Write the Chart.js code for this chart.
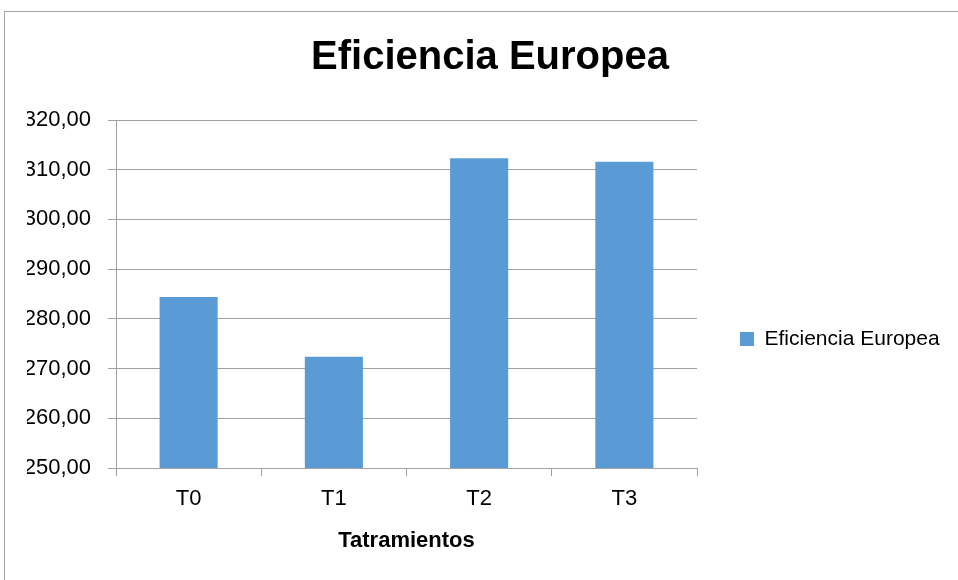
<!DOCTYPE html>
<html>
<head>
<meta charset="utf-8">
<script src="https://cdn.jsdelivr.net/npm/chart.js@4/dist/chart.umd.min.js"></script>
<style>
  html, body { margin: 0; padding: 0; background: #fff; }
  #wrap { width: 958px; height: 580px; }
</style>
</head>
<body>
<div id="wrap"><canvas id="chart" width="958" height="580"></canvas></div>
<script>
const categories = ['T0', 'T1', 'T2', 'T3'];
const seriesName = 'Eficiencia Europea';
const values = [284.4, 272.4, 312.3, 311.6];
const yTicks = [250, 260, 270, 280, 290, 300, 310, 320];

const sans = "'Liberation Sans', Arial, sans-serif";
const gridGrey = '#a0a0a0';

// marco gris del gráfico
const frame = {
    id: 'frame',
    beforeDraw(chart) {
        const ctx = chart.ctx;
        ctx.save();
        ctx.strokeStyle = '#a6a6a6';
        ctx.lineWidth = 1;
        ctx.strokeRect(4.5, 11.5, 980, 600);
        ctx.restore();
    }
};

// ancho fijo para la leyenda de la derecha
const legendWidth = {
    id: 'legendWidth',
    beforeLayout(chart) {
        const lg = chart.legend;
        if (lg && !lg._fixedWidth) {
            const fit = lg.fit;
            lg.fit = function () {
                fit.call(this);
                this.width = 256;
            };
            lg._fixedWidth = true;
        }
    }
};

function formatNum(v) {
    return v.toFixed(2).replace('.', ',');
}

new Chart(document.getElementById('chart'), {
    type: 'bar',
    data: {
        labels: categories,
        datasets: [{
            label: seriesName,
            data: values,
            backgroundColor: '#5b9bd5',
            borderWidth: 0,
            categoryPercentage: 1,
            barPercentage: 0.4
        }]
    },
    options: {
        responsive: false,
        animation: false,
        layout: { padding: { left: 27, right: 5, top: 0, bottom: 0 } },
        plugins: {
            title: {
                display: true,
                text: seriesName,
                color: '#000',
                font: { family: sans, size: 40, weight: 'bold' },
                padding: { top: 34, bottom: 38 }
            },
            legend: {
                position: 'right',
                title: { display: true, text: '', font: { size: 10 }, padding: { top: 86, bottom: 0 } },
                labels: {
                    color: '#000',
                    font: { family: sans, size: 21 },
                    boxWidth: 14,
                    boxHeight: 14,
                    padding: 43
                }
            },
            tooltip: { enabled: false }
        },
        scales: {
            x: {
                afterFit(scale) { scale.height = 112; },
                border: { color: gridGrey, width: 1 },
                grid: { drawOnChartArea: false, drawTicks: true, tickLength: 8, color: gridGrey },
                ticks: { color: '#000', padding: 10, font: { family: sans, size: 22 } },
                title: {
                    display: true,
                    text: 'Tatramientos',
                    color: '#000',
                    font: { family: sans, size: 22, weight: 'bold' },
                    padding: { top: 0, bottom: 26 }
                }
            },
            y: {
                min: yTicks[0],
                max: yTicks[yTicks.length - 1],
                afterFit(scale) { scale.width = 89; },
                afterBuildTicks(scale) { scale.ticks = yTicks.map(v => ({ value: v })); },
                border: { color: gridGrey, width: 1 },
                grid: { color: gridGrey, lineWidth: 1, tickLength: 8 },
                ticks: {
                    color: '#000',
                    padding: 17,
                    font: { family: sans, size: 22 },
                    callback: v => formatNum(v)
                }
            }
        }
    },
    plugins: [frame, legendWidth]
});
</script>
</body>
</html>
